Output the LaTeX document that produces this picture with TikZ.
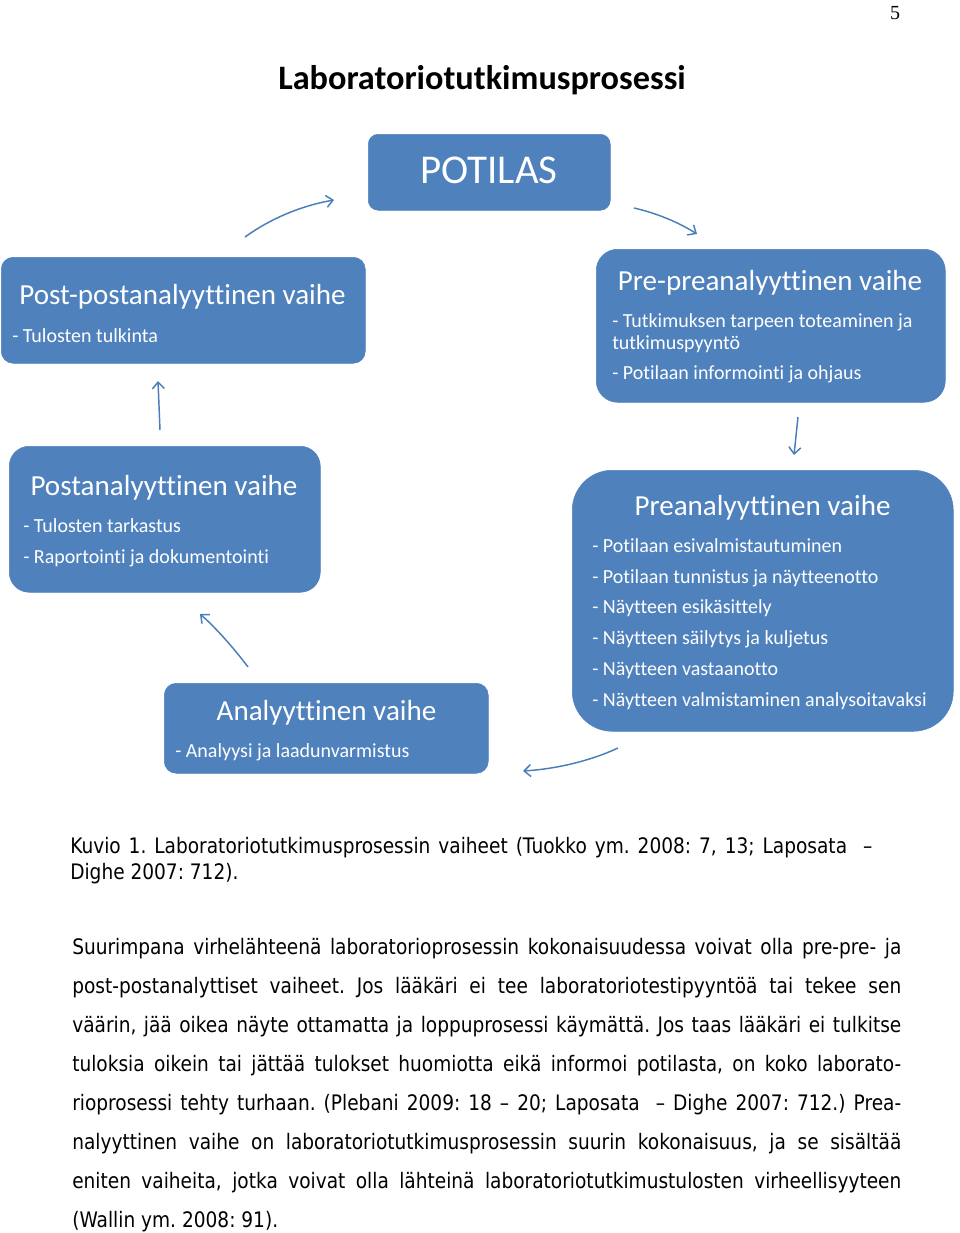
\documentclass[tikz,border=0pt]{standalone}
\usepackage{fontspec}
\setmainfont{Carlito}[Ligatures={NoCommon}]
\newfontfamily\bodyfont{DejaVu Sans}[FakeStretch=0.87]
\newfontfamily\pagefont{Liberation Serif}
\usetikzlibrary{arrows.meta}
\definecolor{obox}{HTML}{4F81BD}
\definecolor{oarrow}{HTML}{4A7EBB}
\begin{document}
\begin{tikzpicture}[x=0.75pt,y=-0.75pt,
  phase/.style={fill=obox, draw=obox, anchor=north west, inner sep=0pt},
  ttl/.style={text=white, font=\fontsize{21.8}{26}\selectfont, anchor=base, inner sep=0pt},
  itm/.style={text=white, font=\fontsize{15}{18}\selectfont, anchor=base west, inner sep=0pt},
  flow/.style={draw=oarrow, line width=1.1pt, -{Straight Barb[length=5pt,width=9pt]}},
  bodyline/.style={font=\bodyfont\fontsize{16}{19}\selectfont\frenchspacing, anchor=base west, inner sep=0pt}]
\useasboundingbox (0,0) rectangle (960,1233);

% page number
\node[font=\pagefont\fontsize{15}{18}\selectfont, anchor=base, inner sep=0pt] (pageno) at (895,19) {5};

% title
\node[font=\fontsize{25.7}{30}\selectfont\bfseries, anchor=base, inner sep=0pt] (title) at (482,89) {Laboratoriotutkimusprosessi};

% boxes
\node[phase, minimum width=181.5pt, minimum height=57pt, rounded corners=7.5pt] (pot) at (368,134) {};
\node[text=white, font=\fontsize{30.7}{36}\selectfont, anchor=base, inner sep=0pt] (pottxt) at (489,183) {POTILAS};

\node[phase, minimum width=273pt, minimum height=79.5pt, rounded corners=9pt] (pp) at (1,257) {};
\node[ttl] (pptitle) at (182.5,304) {Post-postanalyyttinen vaihe};
\node[itm] (pp1) at (12,342) {- Tulosten tulkinta};

\node[phase, minimum width=261.75pt, minimum height=114.75pt, rounded corners=16pt] (prep) at (596,249) {};
\node[ttl] (preptitle) at (770,290) {Pre-preanalyyttinen vaihe};
\node[itm] (prep1) at (612,327) {- Tutkimuksen tarpeen toteaminen ja};
\node[itm] (prep2) at (612,349) {tutkimuspyyntö};
\node[itm] (prep3) at (612,379) {- Potilaan informointi ja ohjaus};

\node[phase, minimum width=233.25pt, minimum height=109.5pt, rounded corners=15pt] (post) at (9,446) {};
\node[ttl] (posttitle) at (164,495) {Postanalyyttinen vaihe};
\node[itm] (post1) at (23,532) {- Tulosten tarkastus};
\node[itm] (post2) at (23,563) {- Raportointi ja dokumentointi};

\node[phase, minimum width=285.75pt, minimum height=195.75pt, rounded corners=30pt] (pre) at (572,470) {};
\node[ttl] (pretitle) at (762.5,515) {Preanalyyttinen vaihe};
\node[itm] (pre1) at (592,552) {- Potilaan esivalmistautuminen};
\node[itm] (pre2) at (592,583) {- Potilaan tunnistus ja näytteenotto};
\node[itm] (pre3) at (592,613) {- Näytteen esikäsittely};
\node[itm] (pre4) at (592,644) {- Näytteen säilytys ja kuljetus};
\node[itm] (pre5) at (592,675) {- Näytteen vastaanotto};
\node[itm] (pre6) at (592,706) {- Näytteen valmistaminen analysoitavaksi};

\node[phase, minimum width=243pt, minimum height=67.5pt, rounded corners=9pt] (ana) at (164,683) {};
\node[ttl] (anatitle) at (326.5,720) {Analyyttinen vaihe};
\node[itm] (ana1) at (175,757) {- Analyysi ja laadunvarmistus};

% arrow end points
\coordinate (a1s) at (245,237); \coordinate (a1e) at (334,200);
\coordinate (a2s) at (634,208); \coordinate (a2e) at (697,234);
\coordinate (a3s) at (798,417); \coordinate (a3e) at (794,455);
\coordinate (a4s) at (618,748); \coordinate (a4e) at (523,771);
\coordinate (a5s) at (248,667); \coordinate (a5e) at (200,614);
\coordinate (a6s) at (160,430); \coordinate (a6e) at (158,381);

\draw[flow] (a1s) .. controls (270,219) and (300,206) .. (a1e);
\draw[flow] (a2s) .. controls (656,213) and (678,222) .. (a2e);
\draw[flow] (a3s) -- (a3e);
\draw[flow] (a4s) .. controls (590,761) and (556,769) .. (a4e);
\draw[flow] (a5s) .. controls (233,647) and (215,627) .. (a5e);
\draw[flow] (a6s) -- (a6e);

% caption
\node[bodyline] (cap1) at (70,853) {\makebox[601.5pt][s]{Kuvio 1. Laboratoriotutkimusprosessin vaiheet (Tuokko ym. 2008: 7, 13; Laposata~ –}};
\node[bodyline] (cap2) at (70,879) {Dighe 2007: 712).};

% body text
\node[bodyline] (b1) at (72,954) {\makebox[621.75pt][s]{Suurimpana virhelähteenä laboratorioprosessin kokonaisuudessa voivat olla pre-pre- ja}};
\node[bodyline] (b2) at (72,993) {\makebox[621.75pt][s]{post-postanalyttiset vaiheet. Jos lääkäri ei tee laboratoriotestipyyntöä tai tekee sen}};
\node[bodyline] (b3) at (72,1032) {\makebox[621.75pt][s]{väärin, jää oikea näyte ottamatta ja loppuprosessi käymättä. Jos taas lääkäri ei tulkitse}};
\node[bodyline] (b4) at (72,1071) {\makebox[621.75pt][s]{tuloksia oikein tai jättää tulokset huomiotta eikä informoi potilasta, on koko laborato-}};
\node[bodyline] (b5) at (72,1110) {\makebox[621.75pt][s]{rioprosessi tehty turhaan. (Plebani 2009: 18 – 20; Laposata~ – Dighe 2007: 712.) Prea-}};
\node[bodyline] (b6) at (72,1149) {\makebox[621.75pt][s]{nalyyttinen vaihe on laboratoriotutkimusprosessin suurin kokonaisuus, ja se sisältää}};
\node[bodyline] (b7) at (72,1188) {\makebox[621.75pt][s]{eniten vaiheita, jotka voivat olla lähteinä laboratoriotutkimustulosten virheellisyyteen}};
\node[bodyline] (b8) at (72,1227) {(Wallin ym. 2008: 91).};
\end{tikzpicture}
\end{document}
